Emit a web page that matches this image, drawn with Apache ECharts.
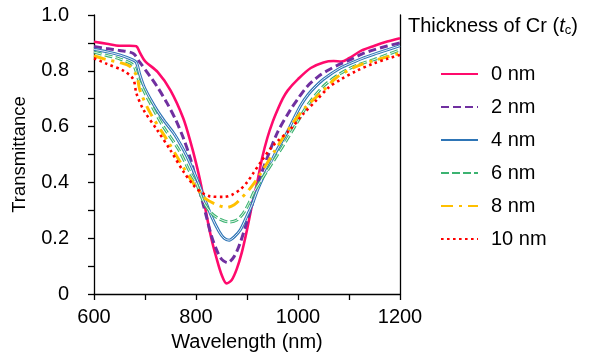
<!DOCTYPE html>
<html>
<head>
<meta charset="utf-8">
<script src="https://cdn.jsdelivr.net/npm/echarts@6/dist/echarts.min.js"></script>
<style>html,body{margin:0;padding:0;background:#fff}#c{width:589px;height:357px}</style>
</head>
<body>
<div id="c"></div>
<script>
// Data (wavelength nm, transmittance)
var names = ['0 nm', '2 nm', '4 nm', '6 nm', '8 nm', '10 nm'];
var xTickLabels = ['600', '800', '1000', '1200'];
var yTickLabels = ['0', '0.2', '0.4', '0.6', '0.8', '1.0'];

var t0 = [[600,0.904],[625,0.897],[650,0.89],[670,0.89],[683,0.888],[690,0.865],[700,0.835],[725,0.795],[750,0.73],[775,0.63],[790,0.54],[800,0.47],[810,0.39],[820,0.29],[830,0.20],[840,0.13],[850,0.07],[860,0.038],[870,0.05],[880,0.09],[890,0.15],[900,0.23],[910,0.32],[920,0.40],[930,0.49],[940,0.56],[950,0.615],[960,0.66],[970,0.70],[980,0.73],[1000,0.77],[1025,0.81],[1050,0.83],[1070,0.835],[1085,0.833],[1100,0.845],[1125,0.873],[1150,0.89],[1175,0.905],[1200,0.917]];
var t2 = [[600,0.887],[625,0.88],[650,0.873],[677,0.862],[690,0.83],[710,0.78],[725,0.74],[743,0.685],[760,0.625],[775,0.56],[790,0.48],[800,0.41],[810,0.35],[820,0.28],[830,0.21],[840,0.16],[850,0.125],[862,0.112],[875,0.135],[887,0.185],[900,0.26],[913,0.34],[925,0.415],[940,0.49],[960,0.58],[985,0.66],[1000,0.70],[1018,0.744],[1040,0.78],[1057,0.80],[1080,0.822],[1103,0.84],[1125,0.86],[1150,0.876],[1175,0.889],[1200,0.90]];
var t4 = [[600,0.877],[625,0.868],[650,0.857],[675,0.84],[683,0.83],[690,0.785],[700,0.735],[723,0.66],[740,0.615],[756,0.577],[770,0.535],[782,0.494],[800,0.42],[815,0.35],[830,0.28],[845,0.225],[855,0.20],[865,0.193],[875,0.205],[887,0.23],[900,0.28],[910,0.32],[920,0.37],[932,0.42],[943,0.458],[960,0.52],[978,0.577],[991,0.625],[1005,0.675],[1020,0.715],[1035,0.745],[1050,0.77],[1083,0.81],[1110,0.832],[1130,0.847],[1150,0.86],[1175,0.875],[1200,0.89]];
var t6 = [[600,0.867],[625,0.855],[650,0.843],[677,0.82],[687,0.77],[700,0.72],[710,0.685],[736,0.60],[766,0.518],[790,0.43],[800,0.40],[815,0.33],[830,0.29],[845,0.27],[865,0.258],[880,0.265],[893,0.29],[905,0.33],[913,0.363],[925,0.40],[939,0.44],[960,0.50],[978,0.553],[1000,0.62],[1018,0.675],[1050,0.745],[1083,0.79],[1115,0.82],[1149,0.84],[1175,0.858],[1200,0.875]];
var t8 = [[600,0.854],[625,0.84],[650,0.83],[671,0.815],[684,0.78],[690,0.73],[710,0.65],[743,0.553],[770,0.47],[790,0.41],[808,0.364],[820,0.34],[841,0.32],[860,0.31],[875,0.32],[887,0.34],[900,0.365],[913,0.395],[926,0.43],[952,0.506],[985,0.60],[1015,0.67],[1050,0.73],[1075,0.775],[1103,0.806],[1125,0.823],[1149,0.837],[1175,0.85],[1200,0.863]];
var t10 = [[600,0.845],[625,0.825],[658,0.80],[677,0.77],[683,0.72],[697,0.66],[723,0.59],[750,0.515],[775,0.44],[795,0.39],[810,0.365],[828,0.35],[854,0.348],[870,0.355],[887,0.375],[900,0.40],[913,0.435],[926,0.47],[950,0.53],[985,0.59],[1010,0.645],[1037,0.696],[1060,0.74],[1083,0.768],[1115,0.80],[1149,0.827],[1175,0.843],[1200,0.857]];

var FONT = '"Liberation Sans", Arial, sans-serif';
var FS = 20;
var chart = echarts.init(document.getElementById('c'), null, {renderer: 'canvas'});

function line(name, data, color, width, type) {
  return {
    name: name, type: 'line', data: data, smooth: 0.3, symbol: 'none', showSymbol: false,
    lineStyle: {color: color, width: width, type: type, cap: 'butt'},
    itemStyle: {color: color}, emphasis: {disabled: true}, animation: false
  };
}
function overlay(data) {
  return {
    name: '_ov', type: 'line', data: data, smooth: 0.3, symbol: 'none',
    lineStyle: {color: '#ffffff', width: 0.9}, emphasis: {disabled: true},
    animation: false, silent: true
  };
}

var option = {
  backgroundColor: '#ffffff',
  animation: false,
  grid: {left: 94, right: 189, top: 15, bottom: 62, containLabel: false},
  title: {
    text: 'Thickness of Cr ({i|t}{s|c})',
    left: 403, top: 10,
    textStyle: {
      fontFamily: FONT, fontSize: FS, fontWeight: 'normal', color: '#000',
      rich: {
        i: {fontFamily: FONT, fontSize: FS, fontStyle: 'italic', color: '#000'},
        s: {fontFamily: FONT, fontSize: 13, color: '#000', verticalAlign: 'bottom', padding: [9, 0, 0, 0]}
      }
    }
  },
  legend: {
    data: names, orient: 'vertical', left: 435, top: 59,
    itemWidth: 37, itemHeight: 12, itemGap: 13,
    selectedMode: false,
    itemStyle: {opacity: 0},
    textStyle: {fontFamily: FONT, fontSize: FS, color: '#000', padding: [0, 0, 0, 8]}
  },
  xAxis: {
    type: 'value', min: 600, max: 1200, interval: 100,
    name: 'Wavelength (nm)', nameLocation: 'middle', nameGap: 38,
    nameTextStyle: {fontFamily: FONT, fontSize: FS, color: '#000'},
    axisLine: {show: true, onZero: false, lineStyle: {color: '#000', width: 1.3}},
    axisTick: {show: true, length: 6, lineStyle: {color: '#000', width: 1.3}},
    axisLabel: {
      fontFamily: FONT, fontSize: FS, color: '#000', margin: 13,
      formatter: function (v) { var s = String(v); return xTickLabels.indexOf(s) >= 0 ? s : ''; }
    },
    splitLine: {show: false}
  },
  yAxis: [{
    type: 'value', min: 0, max: 1, interval: 0.1,
    name: 'Transmittance', nameLocation: 'middle', nameGap: 65, nameRotate: 90,
    nameTextStyle: {fontFamily: FONT, fontSize: 18.5, color: '#000'},
    axisLine: {show: true, lineStyle: {color: '#000', width: 1.3}},
    axisTick: {show: true, length: 6, lineStyle: {color: '#000', width: 1.3}},
    axisLabel: {
      fontFamily: FONT, fontSize: FS, color: '#000', margin: 25,
      formatter: function (v) {
        var k = Math.round(v * 10);
        if (k % 2 !== 0) return '';
        return yTickLabels[k / 2];
      }
    },
    splitLine: {show: false}
  }, {
    type: 'value', min: 0, max: 1, position: 'right',
    axisLine: {show: true, lineStyle: {color: '#000', width: 1.3}},
    axisTick: {show: false}, axisLabel: {show: false}, splitLine: {show: false}
  }],
  series: [
    line(names[0], t0, '#ff0a6c', 2.6, 'solid'),
    line(names[1], t2, '#7030a0', 3, [8, 4]),
    line(names[2], t4, '#2e75b6', 3, 'solid'),
    overlay(t4),
    line(names[3], t6, '#3cb371', 3, [8, 3]),
    overlay(t6),
    line(names[4], t8, '#ffc000', 3, [12, 6, 3, 6]),
    line(names[5], t10, '#ff0000', 2.6, [2.6, 3.4])
  ]
};
chart.setOption(option);
</script>
</body>
</html>
